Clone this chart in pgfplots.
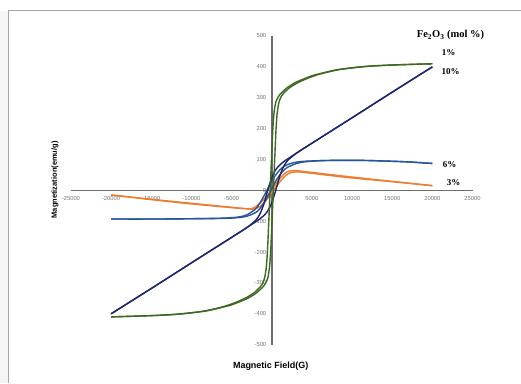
\documentclass[border=0pt]{standalone}
\usepackage{fontspec}
\setmainfont{Liberation Serif}
\setsansfont{Liberation Sans}
\usepackage{pgfplots}
\pgfplotsset{compat=1.18}
\definecolor{cgreen}{RGB}{62,105,35}
\definecolor{cnavy}{RGB}{28,38,110}
\definecolor{cblue}{RGB}{40,85,150}
\definecolor{corange}{RGB}{237,125,49}
\definecolor{axgray}{RGB}{110,110,110}
\definecolor{tickgray}{RGB}{115,115,115}
\begin{document}
\begin{tikzpicture}
\begin{axis}[
  scale only axis, width=402pt, height=309pt,
  xmin=-25000, xmax=25000, ymin=-500, ymax=500,
  axis lines=middle,
  axis line style={-, draw=axgray},
  x axis line style={line width=0.8pt},
  y axis line style={line width=1.8pt},
  major tick length=0pt,
  hide obscured y ticks=false,
  hide obscured x ticks=false,
  scaled x ticks=false, scaled y ticks=false,
  xtick={-25000,-20000,-15000,-10000,-5000,5000,10000,15000,20000,25000},
  ytick={-500,-400,-300,-200,-100,0,100,200,300,400,500},
  tick label style={font=\sffamily\fontsize{5.8}{6.5}\selectfont, text=tickgray},
  xticklabel style={yshift=-3pt},
  yticklabel style={xshift=-2pt},
  /pgf/number format/assume math mode=true,
  /pgf/number format/1000 sep={},
  clip=false,
  every axis plot/.append style={line width=1.4pt, line join=round},
]
% page extent and frame
\path (axis description cs:-0.1766,-0.123) rectangle (axis description cs:1.1194,1.1165);
\fill[gray!8] (axis description cs:-0.1766,-0.123) rectangle (axis description cs:-0.1542,1.0809);
\draw[gray!70, line width=1pt] (axis description cs:-0.1542,-0.123) -- (axis description cs:-0.1542,1.0809) -- (axis description cs:1.1194,1.0809);
% 3 mol%
\addplot[corange, smooth] coordinates {
(20000,15) (15000,29) (10000,43) (6000,55) (4000,61) (3000,64) (2500,64) (2000,61)
(1500,52) (1000,38) (500,20) (0,2) (-500,-15) (-1000,-30) (-1500,-43) (-2000,-53)
(-2500,-59) (-3000,-60) (-5000,-56) (-10000,-44) (-15000,-30) (-20000,-15)};
\addplot[corange, smooth] coordinates {
(-20000,-15) (-15000,-29) (-10000,-42) (-5000,-55) (-3000,-60) (-2500,-61) (-2000,-59)
(-1500,-53) (-1000,-42) (-500,-26) (0,-8) (500,10) (1000,27) (1500,42) (2000,53)
(2500,58) (3000,60) (4000,58) (6000,52) (10000,40) (15000,28) (20000,15)};
% 6 mol%
\addplot[cblue, smooth] coordinates {
(20000,87) (17000,92) (14000,95) (11000,97) (8000,97) (6000,96) (4000,94) (3000,91)
(2000,84) (1500,77) (1000,66) (500,50) (0,30) (-500,5) (-1000,-20) (-1500,-42)
(-2000,-60) (-3000,-78) (-4000,-86) (-6000,-90) (-10000,-92) (-15000,-93) (-20000,-93)};
\addplot[cblue, smooth] coordinates {
(-20000,-93) (-15000,-93) (-10000,-92) (-6000,-91) (-4000,-88) (-3000,-83) (-2000,-72)
(-1500,-60) (-1000,-42) (-500,-20) (0,5) (500,30) (1000,50) (1500,65) (2000,75)
(3000,86) (4000,92) (6000,96) (8000,97) (11000,97) (14000,95) (17000,92) (20000,87)};
% 10 mol%
\addplot[cnavy, smooth] coordinates {
(20000,400) (15000,318) (10000,235) (8000,202) (6000,169) (4000,136) (3000,119)
(2000,102) (1500,93) (1000,82) (500,67) (0,41) (-500,0) (-1000,-46) (-1500,-78)
(-2000,-97) (-3000,-119) (-4000,-136) (-6000,-169) (-8000,-202) (-10000,-235)
(-15000,-318) (-20000,-400)};
\addplot[cnavy, smooth] coordinates {
(-20000,-400) (-15000,-318) (-10000,-235) (-8000,-202) (-6000,-169) (-4000,-136)
(-3000,-119) (-2000,-102) (-1500,-93) (-1000,-82) (-500,-67) (0,-41) (500,0)
(1000,46) (1500,78) (2000,97) (3000,119) (4000,136) (6000,169) (8000,202)
(10000,235) (15000,318) (20000,400)};
% 1 mol%
\addplot[cgreen, smooth] coordinates {
(20000,410) (15000,406) (12000,402) (10000,397) (8000,390) (6000,378) (5000,371)
(4000,361) (3000,350) (2000,334) (1500,323) (1000,310) (800,302) (500,285) (300,255)
(200,225) (100,180) (0,120) (-100,60) (-200,0) (-300,-60) (-400,-120) (-500,-180)
(-600,-225) (-700,-255) (-900,-285) (-1200,-305) (-1700,-320) (-2200,-332)
(-3200,-348) (-4200,-360) (-5200,-370) (-6200,-378) (-8200,-390) (-10200,-397)
(-12200,-402) (-15200,-406) (-20000,-410)};
\addplot[cgreen, smooth] coordinates {
(-20000,-410) (-15000,-406) (-12000,-402) (-10000,-397) (-8000,-390) (-6000,-378)
(-5000,-371) (-4000,-361) (-3000,-350) (-2000,-334) (-1500,-323) (-1000,-310)
(-800,-302) (-500,-285) (-300,-255) (-200,-225) (-100,-180) (0,-120) (100,-60)
(200,0) (300,60) (400,120) (500,180) (600,225) (700,255) (900,285) (1200,305)
(1700,320) (2200,332) (3200,348) (4200,360) (5200,370) (6200,378) (8200,390)
(10200,397) (12200,402) (15200,406) (20000,410)};
% labels
\node[font=\sffamily\bfseries\fontsize{9}{10}\selectfont] at (axis description cs:0.4975,-0.071) {Magnetic Field(G)};
\node[font=\sffamily\bfseries\fontsize{7.5}{9}\selectfont, rotate=90] at (axis description cs:-0.0398,0.534) {Magnetization(emu/g)};
\node[font=\bfseries\fontsize{10.5}{12}\selectfont] at (axis description cs:0.945,1.003) {Fe$_\mathbf{2}$O$_\mathbf{3}$ (mol \%)};
\node[font=\bfseries\fontsize{9}{10}\selectfont] at (axis description cs:0.9403,0.946) {1\%};
\node[font=\bfseries\fontsize{9}{10}\selectfont] at (axis description cs:0.9453,0.8845) {10\%};
\node[font=\bfseries\fontsize{9}{10}\selectfont] at (axis description cs:0.9428,0.5825) {6\%};
\node[font=\bfseries\fontsize{9}{10}\selectfont] at (axis description cs:0.9527,0.5254) {3\%};
\end{axis}
\end{tikzpicture}
\end{document}
